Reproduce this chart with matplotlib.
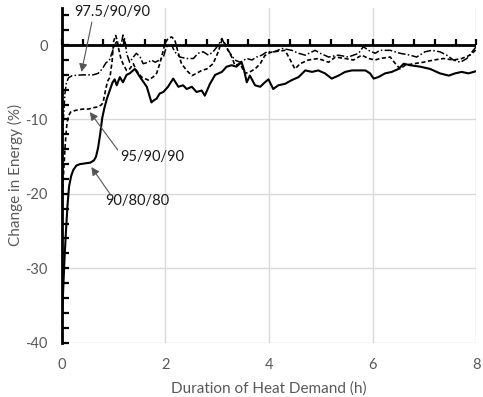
import numpy as np
import matplotlib
matplotlib.use("Agg")
import matplotlib.pyplot as plt

plt.rcParams['font.family'] = ['Lato', 'DejaVu Sans']
plt.rcParams['axes.unicode_minus'] = False

# Duration of heat demand (h) and change in energy (%) for each setting
x_908080 = [0, 0.02, 0.05, 0.08, 0.11, 0.14, 0.18, 0.22, 0.28, 0.35, 0.45, 0.55, 0.62, 0.66,
            0.70, 0.74, 0.78, 0.82, 0.87, 0.93, 0.98, 1.02, 1.06, 1.12, 1.18, 1.25, 1.31, 1.41,
            1.51, 1.58, 1.64, 1.70, 1.73, 1.78, 1.83, 1.89, 1.96, 2.05, 2.15, 2.25, 2.34, 2.41,
            2.51, 2.60, 2.70, 2.76, 2.86, 2.96, 3.09, 3.18, 3.28, 3.37, 3.47, 3.52, 3.57, 3.63,
            3.73, 3.83, 3.92, 3.99, 4.08, 4.18, 4.31, 4.44, 4.57, 4.70, 4.83, 4.95, 5.08, 5.21,
            5.34, 5.47, 5.60, 5.73, 5.86, 5.95, 6.02, 6.11, 6.24, 6.37, 6.50, 6.60, 6.72, 6.92,
            7.11, 7.30, 7.47, 7.59, 7.72, 7.85, 8.0]
y_908080 = [-37, -34, -29, -25, -21.5, -19, -17.6, -16.8, -16.2, -16.0, -15.9, -15.8, -15.5, -15.0,
            -13.8, -12.0, -9.8, -8.5, -7.2, -6.0, -5.0, -4.6, -5.4, -4.3, -5.0, -4.0, -3.8, -3.2,
            -4.3, -5.0, -5.6, -7.0, -7.7, -7.4, -7.2, -6.5, -6.3, -5.6, -4.5, -5.6, -5.4, -5.9,
            -5.6, -6.3, -6.1, -6.8, -5.2, -4.0, -3.6, -2.9, -2.7, -2.9, -2.3, -3.4, -5.0, -4.1,
            -5.4, -5.6, -5.0, -4.6, -5.9, -5.4, -5.2, -4.7, -4.3, -3.4, -3.6, -3.4, -3.8, -4.5,
            -4.1, -3.6, -3.4, -3.4, -3.4, -3.8, -4.5, -4.3, -3.8, -3.6, -3.2, -2.5, -2.7, -2.9,
            -3.2, -3.8, -4.1, -3.8, -3.6, -3.8, -3.5]

x_959090 = [0, 0.02, 0.04, 0.06, 0.08, 0.10, 0.13, 0.17, 0.25, 0.40, 0.51, 0.62, 0.70, 0.77,
            0.80, 0.84, 0.88, 0.93, 0.97, 1.00, 1.04, 1.07, 1.10, 1.14, 1.18, 1.25, 1.31, 1.38,
            1.44, 1.54, 1.67, 1.76, 1.83, 1.89, 1.93, 1.99, 2.05, 2.12, 2.18, 2.25, 2.31, 2.41,
            2.51, 2.60, 2.70, 2.80, 2.92, 3.02, 3.09, 3.15, 3.21, 3.28, 3.34, 3.44, 3.54, 3.63,
            3.73, 3.83, 3.92, 4.02, 4.08, 4.20, 4.31, 4.41, 4.50, 4.60, 4.76, 4.95, 5.15, 5.28,
            5.47, 5.63, 5.79, 5.92, 6.05, 6.14, 6.34, 6.44, 6.53, 6.63, 6.79, 6.98, 7.18, 7.37,
            7.56, 7.72, 7.88, 8.0]
y_959090 = [-21, -19, -16.5, -14, -12, -10.5, -9.5, -9.0, -8.8, -8.6, -8.6, -8.4, -8.3, -8.0,
            -7.6, -6.2, -4.9, -4.3, -2.2, 0.5, 1.3, 0.6, -0.6, -1.8, -2.5, -3.4, -3.2, -2.5,
            -3.4, -4.3, -4.7, -4.3, -3.8, -2.5, -1.5, 0.2, 0.9, 1.1, 0.7, -1.1, -2.5, -3.4,
            -4.1, -3.8, -3.4, -3.2, -2.5, -0.9, 0.7, 0.2, -0.7, -1.6, -2.7, -2.5, -3.8, -3.6,
            -3.2, -2.5, -1.4, -1.0, -0.9, -0.8, -0.7, -2.0, -3.2, -2.5, -2.0, -1.8, -2.3, -1.6,
            -1.8, -2.0, -1.35, -1.8, -2.0, -1.8, -1.6, -2.5, -3.2, -2.7, -2.5, -2.3, -2.0, -1.8,
            -2.0, -1.8, -1.35, -0.6]

x_9759090 = [0, 0.03, 0.06, 0.09, 0.13, 0.20, 0.40, 0.60, 0.70, 0.78, 0.85, 0.92, 0.97,
             1.03, 1.06, 1.09, 1.15, 1.18, 1.22, 1.25, 1.31, 1.38, 1.44, 1.51, 1.57, 1.67,
             1.73, 1.80, 1.89, 1.96, 2.02, 2.12, 2.18, 2.28, 2.41, 2.54, 2.63, 2.73, 2.83,
             2.92, 3.02, 3.09, 3.15, 3.25, 3.34, 3.44, 3.57, 3.67, 3.76, 3.86, 3.96, 4.10,
             4.25, 4.44, 4.57, 4.70, 4.89, 4.99, 5.15, 5.34, 5.53, 5.73, 5.82, 5.92, 6.05,
             6.14, 6.34, 6.53, 6.72, 6.85, 7.01, 7.14, 7.30, 7.43, 7.56, 7.69, 7.82, 7.92, 8.0]
y_9759090 = [-14, -10, -6.5, -5.0, -4.4, -4.1, -4.0, -4.0, -3.8, -3.2, -2.4, -2.0, -1.0,
             0.2, 0.45, -0.2, 0.2, 1.35, 0.7, -1.1, -2.3, -1.6, -1.1, -1.6, -2.5, -2.3,
             -2.0, -2.3, -2.0, -1.6, -0.2, 0.0, -0.9, -1.6, -1.8, -1.8, -1.1, -0.9, -1.35,
             -0.9, 0.0, 0.9, 0.0, -1.1, -2.0, -2.3, -1.8, -2.0, -1.6, -1.35, -0.9, -0.9,
             -0.45, -0.7, -1.1, -1.35, -0.7, -1.1, -1.6, -1.35, -1.6, -1.1, -0.2, -0.7, -1.1,
             -0.7, -0.7, -1.1, -1.35, -1.6, -0.9, -0.7, -0.9, -1.35, -2.0, -2.3, -1.8, -0.9, -0.2]

x_ticks = [0, 2, 4, 6, 8]
y_ticks = [-40, -30, -20, -10, 0]
zero_axis_ticks = np.arange(0, 8.01, 0.4)

grey = '#595959'
fig = plt.figure(figsize=(4.83, 3.97), dpi=100)
ax = fig.add_axes([0.128, 0.137, 0.858, 0.843])

ax.set_xlim(0, 8)
ax.set_ylim(-40, 5)
ax.set_xticks(x_ticks)
ax.set_yticks(y_ticks)
ax.set_yticks(np.arange(-40, 5, 2), minor=True)
ax.grid(True, which='major', color='#d9d9d9', lw=1.0, zorder=0)
ax.set_axisbelow(True)

# horizontal axis line through zero with short upward tick marks
ax.axhline(0, color='black', lw=2.0, zorder=3)
ax.vlines(zero_axis_ticks, 0, 0.85, colors='black', lw=1.6, zorder=3, clip_on=False)

ax.plot(x_908080, y_908080, color='black', lw=1.5, solid_joinstyle='round', zorder=4)
ax.plot(x_959090, y_959090, color='black', lw=1.2, dashes=(2.5, 1.5), zorder=4)
ax.plot(x_9759090, y_9759090, color='black', lw=1.1, dashes=(5, 1.5, 1, 1.5), zorder=4)

for side in ('top', 'right', 'bottom'):
    ax.spines[side].set_visible(False)
ax.spines['left'].set_linewidth(2.0)
ax.spines['left'].set_zorder(5)

ax.tick_params(axis='x', length=0, pad=11, labelsize=10.5, labelcolor=grey)
ax.tick_params(axis='y', which='major', direction='in', length=5, width=1.6,
               color='black', pad=10, labelsize=10.5, labelcolor=grey)
ax.tick_params(axis='y', which='minor', direction='in', length=5, width=1.6, color='black')

ax.set_xlabel('Duration of Heat Demand (h)', fontsize=11, color=grey, labelpad=7)
ax.set_ylabel('Change in Energy (%)', fontsize=11, color=grey, labelpad=2)

arrow = dict(arrowstyle='-|>', color='#555555', lw=0.8, mutation_scale=12,
             shrinkA=0, shrinkB=0)
labels = [
    ('97.5/90/90', (0.97, 4.4), (0.58, 3.1), (0.38, -3.6)),
    ('95/90/90', (1.74, -15.05), (1.08, -14.1), (0.54, -9.0)),
    ('90/80/80', (1.45, -21.0), (0.95, -20.2), (0.57, -16.4)),
]
for txt, tpos, tail, tip in labels:
    ax.text(tpos[0], tpos[1], txt, ha='center', va='center', fontsize=10.5,
            color='#1a1a1a', zorder=6)
    ax.annotate('', xy=tip, xytext=tail, arrowprops=arrow, zorder=6)

fig.savefig('out.png', dpi=100)
